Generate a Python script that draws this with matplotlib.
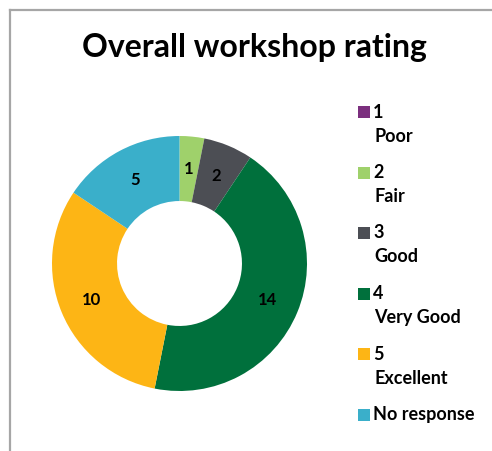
import matplotlib
matplotlib.use("Agg")
import matplotlib.pyplot as plt
import numpy as np
from matplotlib.patches import Rectangle
from matplotlib.lines import Line2D

plt.rcParams["font.family"] = ["Lato", "DejaVu Sans"]

title = "Overall workshop rating"
ratings = ["1", "2", "3", "4", "5", "No response"]
descriptions = ["Poor", "Fair", "Good", "Very Good", "Excellent", ""]
counts = [0, 1, 2, 14, 10, 5]
colors = ["#7B2F7E", "#9FD16B", "#4C4E54", "#00703C", "#FDB515", "#3AAFCA"]

W, H = 492, 451
fig = plt.figure(figsize=(W / 100, H / 100), dpi=100)


def px(x, y):
    # pixel coords from top-left -> figure fraction
    return x / W, 1 - y / H


# chart frame (partially visible)
fig.add_artist(Line2D([10 / W, 10 / W], [0, 1 - 10 / H], color="#A6A6A6", lw=1.6))
fig.add_artist(Line2D([10 / W, 1], [1 - 10 / H, 1 - 10 / H], color="#A6A6A6", lw=1.6))

# donut
cx, cy, R = 179.5, 263.5, 127.5
hole = 0.51
ax = fig.add_axes([(cx - R) / W, 1 - (cy + R) / H, 2 * R / W, 2 * R / H])
ax.pie(counts, colors=colors, startangle=90, counterclock=False,
       radius=1, wedgeprops=dict(width=hole, linewidth=0))
ax.set_xlim(-1, 1)
ax.set_ylim(-1, 1)
ax.set_aspect("equal")
ax.axis("off")

total = sum(counts)
start = 90.0
for v in counts:
    if v > 0:
        mid = np.deg2rad(start - v / total * 360 / 2)
        r = 1 - hole / 2
        ax.text(r * np.cos(mid), r * np.sin(mid), str(v), ha="center", va="center",
                fontsize=12, fontweight="bold", color="black")
    start -= v / total * 360

fig.text(*px(254, 48), title, ha="center", va="center", fontsize=23, fontweight="bold")

# legend
y0, step = 112, 60.5
for i, (lab, desc, col) in enumerate(zip(ratings, descriptions, colors)):
    y = y0 + i * step
    fx, fy = px(358, y + 6)
    fig.add_artist(Rectangle((fx, fy), 12 / W, 12 / H, transform=fig.transFigure,
                             facecolor=col, edgecolor="none"))
    fig.text(*px(373, y), lab, ha="left", va="center", fontsize=13, fontweight="bold")
    if desc:
        fig.text(*px(374, y + 24), desc, ha="left", va="center", fontsize=13, fontweight="bold")

fig.savefig("out.png", dpi=100)
